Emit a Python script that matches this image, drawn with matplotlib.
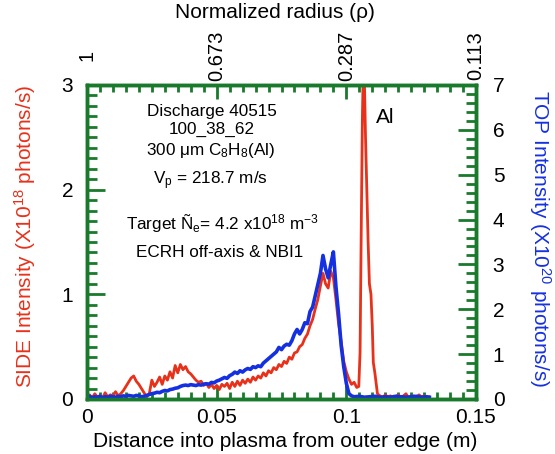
import numpy as np
import matplotlib
matplotlib.use("Agg")
import matplotlib.pyplot as plt
from matplotlib.ticker import MultipleLocator, FixedLocator

plt.rcParams['font.family'] = ['Liberation Sans', 'DejaVu Sans']
plt.rcParams['mathtext.fontset'] = 'custom'
plt.rcParams['mathtext.rm'] = 'Liberation Sans'
plt.rcParams['mathtext.it'] = 'Liberation Sans'
plt.rcParams['mathtext.sf'] = 'Liberation Sans'

# ---------------- data ----------------
# SIDE intensity (x1e18 photons/s), left axis
side_x = [0.000, 0.001, 0.002, 0.003, 0.004, 0.005, 0.006, 0.007, 0.008, 0.009,
          0.010, 0.011, 0.012, 0.013, 0.014, 0.015, 0.016, 0.017, 0.018, 0.019,
          0.020, 0.021, 0.022, 0.023, 0.024, 0.025, 0.026, 0.027, 0.028, 0.029,
          0.030, 0.031, 0.032, 0.033, 0.034, 0.035, 0.036, 0.037, 0.038, 0.039,
          0.040, 0.041, 0.042, 0.043, 0.044, 0.045, 0.046, 0.047, 0.048, 0.049,
          0.050, 0.051, 0.052, 0.053, 0.054, 0.055, 0.056, 0.057, 0.058, 0.059,
          0.060, 0.061, 0.062, 0.063, 0.064, 0.065, 0.066, 0.067, 0.068, 0.069,
          0.070, 0.071, 0.072, 0.073, 0.074, 0.075, 0.076, 0.077, 0.078, 0.079,
          0.080, 0.081, 0.082, 0.083, 0.084, 0.085, 0.086, 0.087, 0.088, 0.089,
          0.090, 0.091, 0.092, 0.093, 0.094, 0.095, 0.096, 0.097, 0.098, 0.099,
          0.100, 0.101, 0.102, 0.103, 0.104,
          0.1048, 0.1053, 0.1057, 0.1062, 0.1065, 0.1070, 0.1074, 0.1079, 0.1084,
          0.1089, 0.1095, 0.1100, 0.1104, 0.1110, 0.1115, 0.1120,
          0.113, 0.114, 0.115, 0.116, 0.117, 0.118, 0.119, 0.120, 0.121, 0.122,
          0.123, 0.124, 0.125, 0.126, 0.127, 0.128, 0.129, 0.130, 0.131, 0.132]
side_y = [0.02, 0.04, 0.01, 0.05, 0.02, 0.03, 0.01, 0.06, 0.02, 0.04,
          0.03, 0.07, 0.03, 0.05, 0.08, 0.12, 0.16, 0.20, 0.22, 0.17,
          0.14, 0.10, 0.06, 0.02, 0.05, 0.18, 0.12, 0.16, 0.21, 0.14,
          0.22, 0.18, 0.26, 0.20, 0.32, 0.25, 0.33, 0.28, 0.31, 0.26,
          0.24, 0.21, 0.18, 0.16, 0.17, 0.13, 0.15, 0.11, 0.14, 0.10,
          0.13, 0.09, 0.14, 0.12, 0.15, 0.10, 0.16, 0.12, 0.17, 0.13,
          0.18, 0.15, 0.19, 0.16, 0.21, 0.18, 0.22, 0.20, 0.25, 0.22,
          0.27, 0.25, 0.30, 0.28, 0.33, 0.31, 0.36, 0.34, 0.40, 0.38,
          0.44, 0.45, 0.50, 0.52, 0.58, 0.62, 0.70, 0.76, 0.86, 0.95,
          1.08, 1.20, 1.10, 1.06, 1.22, 1.16, 0.95, 0.72, 0.55, 0.36,
          0.26, 0.19, 0.14, 0.16, 0.11,
          0.12, 0.45, 1.50, 2.70, 3.10, 3.00, 2.50, 2.00, 1.50,
          1.10, 1.00, 0.70, 0.35, 0.25, 0.15, 0.05,
          0.03, 0.01, 0.04, 0.02, 0.03, 0.01, 0.02, 0.04, 0.01, 0.03,
          0.05, 0.01, 0.02, 0.03, 0.01, 0.04, 0.02, 0.03, 0.01, 0.02]

# TOP intensity (x1e20 photons/s), right axis
top_x = [0.000, 0.001, 0.002, 0.003, 0.004, 0.005, 0.006, 0.007, 0.008, 0.009,
         0.010, 0.011, 0.012, 0.013, 0.014, 0.015, 0.016, 0.017, 0.018, 0.019,
         0.020, 0.021, 0.022, 0.023, 0.024, 0.025, 0.026, 0.027, 0.028, 0.029,
         0.030, 0.031, 0.032, 0.033, 0.034, 0.035, 0.036, 0.037, 0.038, 0.039,
         0.040, 0.041, 0.042, 0.043, 0.044, 0.045, 0.046, 0.047, 0.048, 0.049,
         0.050, 0.051, 0.052, 0.053, 0.054, 0.055, 0.056, 0.057, 0.058, 0.059,
         0.060, 0.061, 0.062, 0.063, 0.064, 0.065, 0.066, 0.067, 0.068, 0.069,
         0.070, 0.071, 0.072, 0.073, 0.074, 0.075, 0.076, 0.077, 0.078, 0.079,
         0.080, 0.081, 0.082, 0.083, 0.084, 0.085, 0.086, 0.087, 0.088, 0.089,
         0.090, 0.091, 0.092, 0.093, 0.094, 0.095, 0.096, 0.097, 0.098, 0.099,
         0.100, 0.101, 0.102, 0.103, 0.105, 0.107, 0.109, 0.111, 0.113, 0.115,
         0.117, 0.119, 0.121, 0.123, 0.125, 0.127, 0.129, 0.131, 0.132]
top_y = [0.04, 0.06, 0.03, 0.05, 0.04, 0.06, 0.03, 0.05, 0.04, 0.06,
         0.05, 0.04, 0.06, 0.05, 0.07, 0.06, 0.08, 0.07, 0.06, 0.08,
         0.07, 0.05, 0.06, 0.08, 0.10, 0.12, 0.13, 0.15, 0.14, 0.17,
         0.19, 0.18, 0.21, 0.22, 0.24, 0.25, 0.28, 0.30, 0.31, 0.30,
         0.32, 0.31, 0.30, 0.32, 0.31, 0.33, 0.34, 0.33, 0.37, 0.36,
         0.40, 0.42, 0.45, 0.48, 0.46, 0.52, 0.55, 0.60, 0.57, 0.63,
         0.60, 0.65, 0.68, 0.66, 0.72, 0.70, 0.74, 0.72, 0.80, 0.85,
         0.90, 0.95, 1.00, 1.05, 1.15, 1.10, 1.18, 1.22, 1.20, 1.30,
         1.45, 1.55, 1.45, 1.55, 1.70, 1.68, 1.95, 2.05, 2.30, 2.55,
         2.80, 3.20, 2.90, 2.70, 3.00, 3.28, 2.50, 1.90, 1.20, 0.72,
         0.35, 0.12, 0.07, 0.05, 0.06, 0.04, 0.05, 0.06, 0.04, 0.05,
         0.04, 0.06, 0.05, 0.04, 0.05, 0.06, 0.04, 0.05, 0.04]

bottom_tick_pos = [0.0, 0.05, 0.10, 0.15]
bottom_tick_labels = ["0", "0.05", "0.1", "0.15"]
top_tick_pos = [0.0, 0.05, 0.10, 0.15]
top_tick_labels = ["1", "0.673", "0.287", "0.113"]

annotations = ["Discharge 40515", "100_38_62", "300 \u03bcm C$_8$H$_8$(Al)",
               "V$_p$ = 218.7 m/s", "Target \u00d1$_e$= 4.2 x10$^{18}$ m$^{-3}$",
               "ECRH off-axis & NBI1"]
annot_xpx = [212, 212, 211, 210, 223, 220]   # centre, pixels
annot_ypx = [116, 134, 155, 184, 230, 257]   # baseline, pixels

RED = '#e8311a'
BLUE = '#1530e0'
GREEN = '#197a2c'

# ---------------- figure ----------------
W, H = 555, 454
fig = plt.figure(figsize=(W / 100, H / 100), dpi=100)
L, R, T, B = 87, 476, 85, 399
ax = fig.add_axes([L / W, 1 - B / H, (R - L) / W, (B - T) / H])
ax2 = ax.twinx()
ax3 = ax.twiny()

ax.plot(side_x, side_y, color=RED, lw=2.0, solid_joinstyle='round')
ax2.plot(top_x, top_y, color=BLUE, lw=2.6, solid_joinstyle='round')

ax.set_xlim(0, 0.15)
ax.set_ylim(0, 3)
ax2.set_ylim(0, 7)
ax3.set_xlim(0, 0.15)

for a in (ax, ax2, ax3):
    for s in a.spines.values():
        s.set_color(GREEN)
        s.set_linewidth(2.4)

ax.xaxis.set_major_locator(FixedLocator(bottom_tick_pos))
ax.xaxis.set_minor_locator(MultipleLocator(0.005))
ax.yaxis.set_major_locator(MultipleLocator(1))
ax.yaxis.set_minor_locator(MultipleLocator(0.1))
ax2.yaxis.set_major_locator(MultipleLocator(1))
ax2.yaxis.set_minor_locator(MultipleLocator(0.2))
ax3.xaxis.set_major_locator(FixedLocator(top_tick_pos))
ax3.xaxis.set_minor_locator(MultipleLocator(0.005))

ax.set_xticklabels(bottom_tick_labels)
ax3.set_xticklabels(top_tick_labels, rotation=90, va='center')

for a in (ax, ax2, ax3):
    a.tick_params(which='major', direction='in', length=10, width=2, color=GREEN,
                  labelsize=15, labelcolor='black')
    a.tick_params(which='minor', direction='in', length=5, width=2, color=GREEN)
ax.tick_params(axis='x', which='major', pad=6.5)
ax.tick_params(axis='y', which='major', length=13, pad=10)
ax.tick_params(axis='y', which='minor', length=7)
ax2.tick_params(axis='y', which='major', length=13, pad=12)
ax2.tick_params(axis='y', which='minor', length=7)
ax3.tick_params(axis='x', which='major', pad=21, labelsize=14.5)

# axis titles
fig.text(275 / W, 1 - 18 / H, "Normalized radius (\u03c1)", ha='center', va='baseline',
         fontsize=15)
fig.text(285 / W, 1 - 447 / H, "Distance into plasma from outer edge (m)", ha='center',
         va='baseline', fontsize=15)
fig.text(25 / W, 1 - 236 / H, "SIDE Intensity (X10$^{18}$ photons/s)", ha='center',
         va='center', rotation=90, fontsize=15, color=RED)
fig.text(540 / W, 1 - 239 / H, "TOP Intensity (X10$^{20}$ photons/s)", ha='center',
         va='center', rotation=270, fontsize=15, color=BLUE)

for txt, px, py in zip(annotations, annot_xpx, annot_ypx):
    fig.text(px / W, 1 - py / H, txt, ha='center', va='baseline', fontsize=12.3)
fig.text(385 / W, 1 - 123 / H, "Al", ha='center', va='baseline', fontsize=15)

fig.savefig("out.png", dpi=100)
